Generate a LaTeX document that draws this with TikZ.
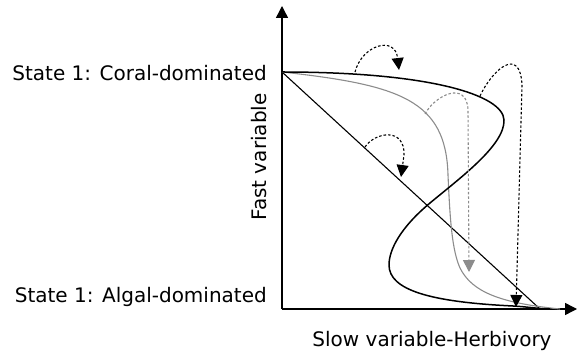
\documentclass[tikz,border=0pt]{standalone}
\usepackage{fontspec}
\setmainfont{DejaVu Sans}
\usetikzlibrary{arrows.meta}
\begin{document}
\begin{tikzpicture}[x=1pt, y=-1pt, every node/.style={font=\fontsize{20}{24}\selectfont, inner sep=0pt},
  tip/.style={-{Triangle[length=12pt, width=12pt]}},
  jump/.style={tip, line width=1.1pt, dash pattern=on 2.5pt off 2pt}]
  \useasboundingbox (0,0) rectangle (577,352);
  \coordinate (O) at (282,309);
  \coordinate (coral) at (282,72);
  % axes
  \draw[line width=1.4pt, tip] (O) -- (282,6) coordinate (ytop);
  \draw[line width=1.4pt, tip] (O) -- (577,309) coordinate (xend);
  \node[anchor=base east] (lcoral) at (267,81) {State 1: Coral-dominated};
  \node[anchor=base east] (lalgal) at (267,302) {State 1: Algal-dominated};
  \node[anchor=base, rotate=90] (lfast) at (266,157) {Fast variable};
  \node[anchor=base] (lslow) at (432,346) {Slow variable-Herbivory};
  % equilibria
  \draw[line width=1.1pt] (coral) -- (540,309);
  \draw[line width=1.1pt, black!45] (coral) .. controls (400,85) and (446,100) .. (448,175)
    .. controls (450,220) and (452,250) .. (460,268) .. controls (472,292) and (500,303) .. (560,309);
  \draw[line width=1.5pt] (coral) .. controls (430,72) and (503,95) .. (504,120)
    .. controls (505,145) and (460,178) .. (430,203) .. controls (400,228) and (389,250) .. (389,265)
    .. controls (389,290) and (430,302) .. (513,306) .. controls (530,307) and (540,309) .. (550,309);
  % perturbations
  \coordinate (a1) at (355,72);  \coordinate (b1) at (399,70);
  \coordinate (a2) at (480,96);  \coordinate (b2) at (516,307);
  \coordinate (a3) at (425,114); \coordinate (b3) at (469,272);
  \coordinate (a4) at (365,147); \coordinate (b4) at (401,177);
  \draw[jump] (a1) .. controls (362,45) and (395,35) .. (b1);
  \draw[jump] (a2) .. controls (492,70) and (520,45) .. (522,85) -- (b2);
  \draw[jump, black!45] (a3) .. controls (435,95) and (467,80) .. (468,110) -- (b3);
  \draw[jump] (a4) .. controls (375,132) and (405,127) .. (404,155) -- (b4);
\end{tikzpicture}
\end{document}
